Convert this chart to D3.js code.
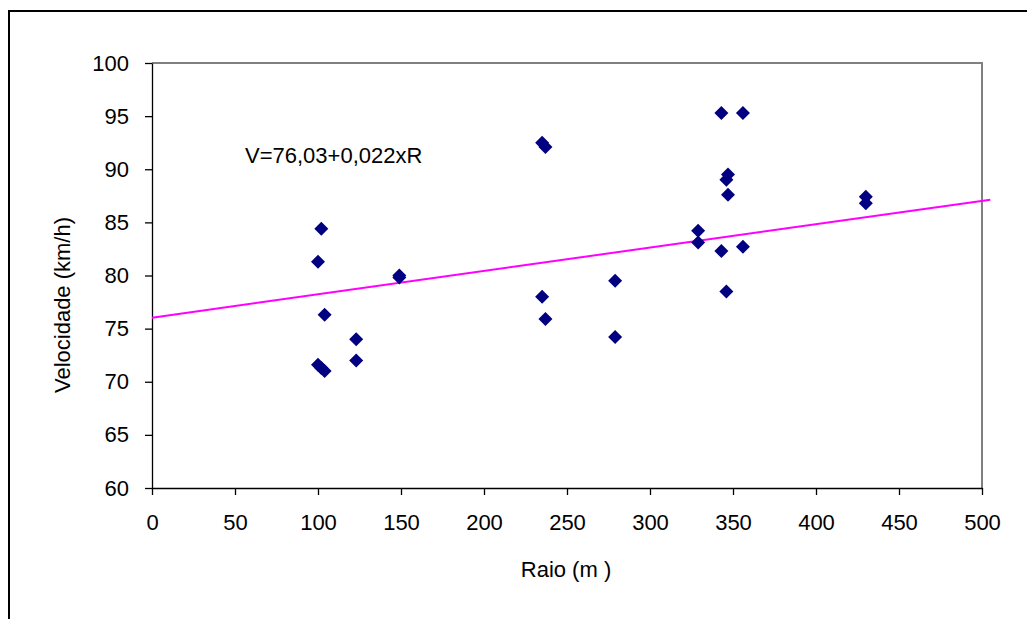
<!DOCTYPE html>
<html><head><meta charset="utf-8">
<script src="https://cdn.jsdelivr.net/npm/d3@7"></script>
<style>body{margin:0;background:#fff;} svg{display:block;} text{font-family:"Liberation Sans",Arial,sans-serif;fill:#000;}</style>
</head><body>
<svg id="c" width="1027" height="619"></svg>
<script>
const radius = [100,102,104,100,102,104,123,123,149,149,235,237,235,237,279,279,329,329,343,356,347,346,347,343,356,346,430,430];
const speed  = [81.3,84.4,76.3,71.6,71.3,71.0,74.0,72.0,80.0,79.8,92.5,92.1,78.0,75.9,79.5,74.2,84.2,83.1,95.3,95.3,89.5,89.0,87.6,82.3,82.7,78.5,87.4,86.8];
const xTicks = [0,50,100,150,200,250,300,350,400,450,500];
const yTicks = [60,65,70,75,80,85,90,95,100];
const trendIntercept = 76.03, trendSlope = 0.022;
const trendX = [0, 505];
const equationLabel = "V=76,03+0,022xR";
const xTitle = "Raio (m )";
const yTitle = "Velocidade (km/h)";

const svg = d3.select("#c");
const L = 152, R = 982, T = 63, B = 488;
const x = d3.scaleLinear().domain([0,500]).range([L,R]);
const y = d3.scaleLinear().domain([60,100]).range([B,T]);

// outer border
svg.append("rect").attr("x",9).attr("y",11).attr("width",1100).attr("height",700)
  .attr("fill","none").attr("stroke","#000").attr("stroke-width",2);

// plot frame top/right gray
svg.append("path").attr("d",`M${L},${T}H${R}V${B}`).attr("fill","none").attr("stroke","#808080").attr("stroke-width",2);

const xa = svg.append("g").attr("transform",`translate(0,${B})`)
  .call(d3.axisBottom(x).tickValues(xTicks).tickSize(7).tickPadding(19).tickSizeOuter(0));
const ya = svg.append("g").attr("transform",`translate(${L},0)`)
  .call(d3.axisLeft(y).tickValues(yTicks).tickSize(7).tickPadding(16).tickSizeOuter(0));
[xa,ya].forEach(a=>{
  a.selectAll("path,line").attr("stroke","#000").attr("stroke-width",1.3);
  a.selectAll("text").style("font-size","22px").style("font-family","'Liberation Sans',Arial,sans-serif");
});

// trend line
svg.append("line")
  .attr("x1",x(trendX[0])).attr("y1",y(trendIntercept+trendSlope*trendX[0]))
  .attr("x2",x(trendX[1])).attr("y2",y(trendIntercept+trendSlope*trendX[1]))
  .attr("stroke","#ff00ff").attr("stroke-width",2);

// points
const sym = d3.symbol().type(d3.symbolSquare).size(98);
svg.append("g").selectAll("path").data(radius.map((r,i)=>[r,speed[i]])).join("path")
  .attr("d",sym).attr("transform",d=>`translate(${x(d[0])},${y(d[1])}) rotate(45)`)
  .attr("fill","#000080");

svg.append("text").attr("x",245).attr("y",163).style("font-size","22px").text(equationLabel);
svg.append("text").attr("x",566).attr("y",577).attr("text-anchor","middle").style("font-size","22px").text(xTitle);
svg.append("text").attr("transform","translate(70,305) rotate(-90)").attr("text-anchor","middle").style("font-size","22px").text(yTitle);
</script>
</body></html>
